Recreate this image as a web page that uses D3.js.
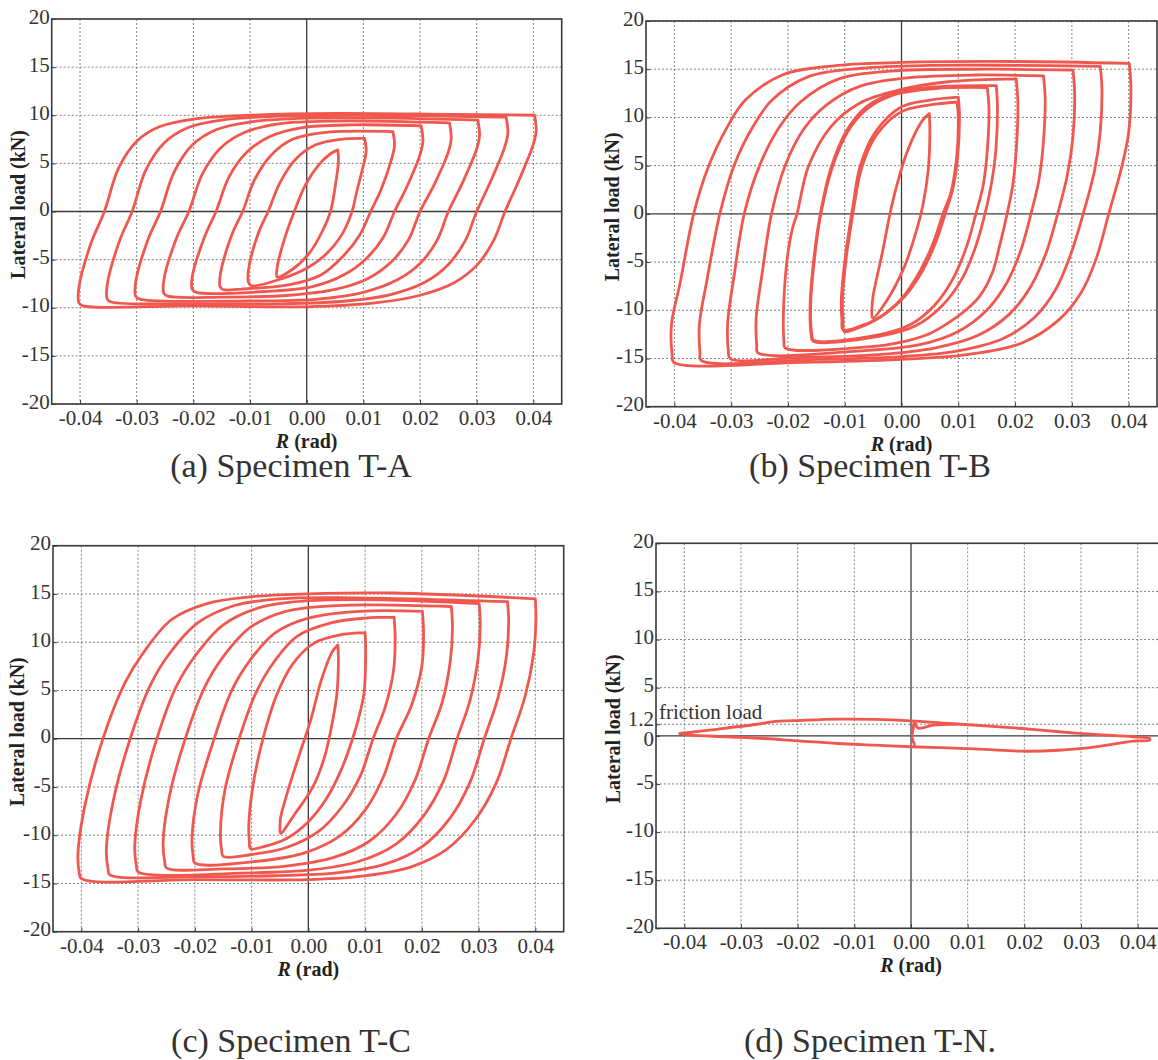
<!DOCTYPE html>
<html>
<head>
<meta charset="utf-8">
<script src="https://cdn.jsdelivr.net/npm/d3@7"></script>
<style>
  body { margin: 0; background: #fff; }
  svg { display: block; }
  svg text { font-family: "Liberation Serif", "Times New Roman", serif; }
</style>
</head>
<body>
<svg id="chart"></svg>
<script>
// ---- data: [R (rad), lateral load (kN)] ----
var xTicks = [-0.04, -0.03, -0.02, -0.01, 0, 0.01, 0.02, 0.03, 0.04];
var yTicks = [-20, -15, -10, -5, 0, 5, 10, 15, 20];
var frictionTick = 1.2;
var captions = ["(a) Specimen T-A", "(b) Specimen T-B", "(c) Specimen T-C", "(d) Specimen T-N."];

var loopsA = [
  [[0.0055,6.4],[0.0056,5.2],[0.0050,2.5],[0.0042,0.0],[0.0028,-2.0],[0.0005,-4.3],[-0.0025,-6.0],[-0.0052,-6.8],[-0.0052,-5.8],[-0.0040,-3.0],[-0.0022,0.0],[-0.0002,2.8],[0.0022,4.9],[0.0042,6.0],[0.0055,6.4]],
  [[0.0102,7.6],[0.0105,6.3],[0.0100,4.8],[0.0088,2.0],[0.0080,0.0],[0.0062,-2.4],[0.0035,-4.4],[0.0000,-5.9],[-0.0045,-7.0],[-0.0098,-7.7],[-0.0103,-7.3],[-0.0102,-5.8],[-0.0085,-2.2],[-0.0068,0.0],[-0.0048,2.9],[-0.0020,5.4],[0.0015,6.9],[0.0060,7.5],[0.0102,7.6]],
  [[0.0152,8.3],[0.0155,6.9],[0.0150,5.5],[0.0132,2.4],[0.0113,0.0],[0.0093,-2.5],[0.0065,-4.6],[0.0025,-6.6],[-0.0030,-7.6],[-0.0100,-8.0],[-0.0148,-8.1],[-0.0153,-7.8],[-0.0152,-6.4],[-0.0132,-2.4],[-0.0113,0.0],[-0.0092,3.3],[-0.0062,5.9],[-0.0025,7.5],[0.0030,8.2],[0.0152,8.3]],
  [[0.0202,8.9],[0.0205,7.3],[0.0200,5.9],[0.0177,2.6],[0.0155,0.0],[0.0135,-2.7],[0.0105,-4.9],[0.0065,-6.6],[0.0010,-7.8],[-0.0070,-8.3],[-0.0195,-8.4],[-0.0202,-8.1],[-0.0202,-6.8],[-0.0180,-2.6],[-0.0160,0.0],[-0.0137,3.6],[-0.0105,6.2],[-0.0065,7.8],[-0.0010,8.7],[0.0080,9.0],[0.0202,8.9]],
  [[0.0252,9.2],[0.0255,7.6],[0.0250,6.2],[0.0225,2.8],[0.0200,0.0],[0.0180,-2.9],[0.0150,-5.2],[0.0110,-6.9],[0.0050,-8.1],[-0.0030,-8.7],[-0.0150,-8.9],[-0.0245,-8.8],[-0.0252,-8.5],[-0.0252,-7.1],[-0.0230,-2.8],[-0.0208,0.0],[-0.0184,3.9],[-0.0152,6.6],[-0.0110,8.2],[-0.0050,9.1],[0.0050,9.4],[0.0252,9.2]],
  [[0.0302,9.5],[0.0305,7.9],[0.0300,6.5],[0.0275,3.0],[0.0250,0.0],[0.0230,-3.0],[0.0200,-5.4],[0.0160,-7.1],[0.0100,-8.4],[0.0020,-9.1],[-0.0100,-9.3],[-0.0295,-9.1],[-0.0302,-8.8],[-0.0302,-7.4],[-0.0280,-2.9],[-0.0258,0.0],[-0.0234,4.1],[-0.0202,6.9],[-0.0160,8.5],[-0.0100,9.3],[0.0000,9.7],[0.0150,9.7],[0.0302,9.5]],
  [[0.0352,9.8],[0.0355,8.2],[0.0350,6.8],[0.0325,3.2],[0.0300,0.0],[0.0280,-3.0],[0.0250,-5.5],[0.0210,-7.3],[0.0150,-8.6],[0.0070,-9.3],[-0.0050,-9.6],[-0.0200,-9.6],[-0.0345,-9.4],[-0.0352,-9.1],[-0.0352,-7.6],[-0.0330,-3.0],[-0.0308,0.0],[-0.0284,4.3],[-0.0252,7.1],[-0.0210,8.7],[-0.0150,9.5],[-0.0050,9.9],[0.0100,10.0],[0.0352,9.8]],
  [[0.0402,10.0],[0.0405,8.4],[0.0400,7.0],[0.0375,3.3],[0.0350,0.0],[0.0330,-3.0],[0.0300,-5.6],[0.0260,-7.4],[0.0200,-8.7],[0.0120,-9.5],[0.0000,-9.9],[-0.0200,-9.8],[-0.0395,-9.8],[-0.0402,-9.5],[-0.0402,-7.9],[-0.0380,-3.2],[-0.0357,0.0],[-0.0332,4.5],[-0.0300,7.3],[-0.0260,8.8],[-0.0200,9.6],[-0.0100,10.0],[0.0050,10.2],[0.0250,10.1],[0.0402,10.0]]
];

var loopsB = [
  [[0.0049,10.4],[0.0050,8.5],[0.0047,4.5],[0.0038,1.0],[0.0025,-2.0],[0.0005,-5.5],[-0.0025,-8.9],[-0.0051,-10.8],[-0.0052,-9.8],[-0.0050,-8.5],[-0.0034,-4.1],[-0.0015,1.4],[0.0011,6.6],[0.0037,9.7],[0.0049,10.4]],
  [[0.0100,12.1],[0.0102,10.5],[0.0099,6.0],[0.0090,2.5],[0.0077,0.0],[0.0060,-3.0],[0.0036,-6.0],[0.0005,-8.6],[-0.0035,-10.6],[-0.0075,-11.7],[-0.0103,-12.0],[-0.0105,-11.0],[-0.0106,-8.9],[-0.0099,-4.5],[-0.0093,-2.0],[-0.0085,1.0],[-0.0073,4.9],[-0.0047,8.4],[0.0000,11.1],[0.0050,11.8],[0.0100,12.1]],
  [[0.0098,11.6],[0.0100,10.0],[0.0097,5.8],[0.0087,2.2],[0.0073,0.0],[0.0056,-3.0],[0.0032,-6.0],[0.0000,-8.8],[-0.0040,-10.8],[-0.0080,-11.9],[-0.0101,-12.2],[-0.0103,-11.0],[-0.0104,-8.8],[-0.0097,-4.4],[-0.0091,-2.0],[-0.0083,1.0],[-0.0070,4.8],[-0.0045,8.1],[0.0000,10.6],[0.0050,11.3],[0.0098,11.6]],
  [[0.0151,13.1],[0.0154,11.0],[0.0151,6.5],[0.0144,3.0],[0.0131,0.0],[0.0114,-3.5],[0.0090,-6.8],[0.0058,-9.5],[0.0015,-11.5],[-0.0045,-12.6],[-0.0155,-13.1],[-0.0158,-12.5],[-0.0160,-9.5],[-0.0153,-4.5],[-0.0142,0.0],[-0.0122,4.8],[-0.0095,8.5],[-0.0060,10.9],[-0.0010,12.4],[0.0060,13.0],[0.0151,13.1]],
  [[0.0167,13.3],[0.0169,11.0],[0.0166,6.5],[0.0158,3.0],[0.0147,0.0],[0.0130,-3.5],[0.0106,-6.8],[0.0072,-9.5],[0.0025,-11.6],[-0.0040,-12.7],[-0.0156,-13.2],[-0.0159,-12.6],[-0.0161,-9.5],[-0.0154,-4.5],[-0.0143,0.0],[-0.0124,4.8],[-0.0097,8.6],[-0.0062,11.1],[-0.0010,12.6],[0.0070,13.2],[0.0167,13.3]],
  [[0.0202,14.0],[0.0205,11.5],[0.0202,6.5],[0.0196,3.0],[0.0186,0.0],[0.0172,-3.5],[0.0160,-6.1],[0.0138,-8.5],[0.0115,-9.9],[0.0080,-11.4],[0.0050,-12.4],[0.0000,-13.3],[-0.0060,-13.8],[-0.0205,-13.9],[-0.0207,-13.2],[-0.0208,-10.5],[-0.0202,-5.0],[-0.0192,-1.5],[-0.0184,0.0],[-0.0164,4.9],[-0.0125,9.0],[-0.0073,11.5],[0.0000,12.9],[0.0082,13.7],[0.0202,14.0]],
  [[0.0250,14.3],[0.0253,12.0],[0.0250,7.5],[0.0242,3.5],[0.0228,0.0],[0.0210,-3.8],[0.0185,-7.2],[0.0150,-10.0],[0.0100,-12.2],[0.0030,-13.6],[-0.0070,-14.2],[-0.0253,-14.4],[-0.0255,-13.6],[-0.0256,-10.8],[-0.0245,-6.0],[-0.0229,0.0],[-0.0205,5.0],[-0.0172,8.8],[-0.0132,11.3],[-0.0075,13.2],[0.0010,14.1],[0.0130,14.4],[0.0250,14.3]],
  [[0.0302,14.9],[0.0305,12.5],[0.0302,8.0],[0.0292,4.0],[0.0275,0.0],[0.0255,-4.0],[0.0228,-7.5],[0.0190,-10.4],[0.0135,-12.6],[0.0060,-13.9],[-0.0040,-14.6],[-0.0180,-14.9],[-0.0302,-15.0],[-0.0305,-14.2],[-0.0306,-11.2],[-0.0295,-6.5],[-0.0277,0.0],[-0.0250,5.0],[-0.0215,9.0],[-0.0178,11.6],[-0.0115,13.9],[-0.0020,14.8],[0.0150,15.0],[0.0302,14.9]],
  [[0.0350,15.3],[0.0353,13.0],[0.0350,8.5],[0.0340,4.5],[0.0320,0.0],[0.0298,-4.2],[0.0272,-7.8],[0.0235,-10.7],[0.0180,-12.9],[0.0100,-14.2],[0.0000,-14.8],[-0.0150,-15.1],[-0.0353,-15.2],[-0.0355,-14.4],[-0.0356,-11.5],[-0.0343,-7.0],[-0.0320,0.0],[-0.0295,5.0],[-0.0262,9.0],[-0.0228,11.8],[-0.0165,14.2],[-0.0070,15.1],[0.0050,15.4],[0.0200,15.4],[0.0350,15.3]],
  [[0.0401,15.6],[0.0404,13.2],[0.0400,8.4],[0.0388,4.9],[0.0365,0.0],[0.0342,-4.8],[0.0316,-8.2],[0.0277,-11.0],[0.0212,-13.4],[0.0115,-14.6],[0.0000,-15.1],[-0.0177,-15.4],[-0.0401,-15.4],[-0.0404,-14.6],[-0.0405,-11.4],[-0.0390,-7.2],[-0.0366,0.0],[-0.0340,4.9],[-0.0307,9.0],[-0.0275,11.8],[-0.0210,14.4],[-0.0112,15.4],[0.0000,15.7],[0.0200,15.8],[0.0401,15.6]]
];

var loopsC = [
  [[0.0052,9.7],[0.0053,8.0],[0.0050,4.5],[0.0040,1.0],[0.0028,-2.0],[0.0008,-5.0],[-0.0025,-7.9],[-0.0049,-9.8],[-0.0050,-9.0],[-0.0049,-8.2],[-0.0034,-5.0],[-0.0015,-1.5],[0.0004,1.9],[0.0023,6.1],[0.0042,9.0],[0.0052,9.7]],
  [[0.0100,11.0],[0.0101,9.0],[0.0098,4.7],[0.0088,2.0],[0.0078,0.0],[0.0058,-3.2],[0.0032,-6.2],[0.0000,-8.6],[-0.0040,-10.4],[-0.0080,-11.2],[-0.0102,-11.4],[-0.0104,-10.6],[-0.0105,-9.0],[-0.0098,-5.0],[-0.0080,0.0],[-0.0056,4.5],[-0.0028,7.7],[0.0010,9.9],[0.0060,10.8],[0.0100,11.0]],
  [[0.0151,12.6],[0.0153,10.5],[0.0150,7.0],[0.0135,3.2],[0.0114,0.0],[0.0092,-3.8],[0.0060,-7.0],[0.0018,-9.6],[-0.0040,-11.3],[-0.0100,-12.0],[-0.0150,-12.2],[-0.0153,-11.5],[-0.0155,-9.8],[-0.0147,-5.3],[-0.0122,0.0],[-0.0092,4.8],[-0.0060,8.0],[-0.0020,10.6],[0.0040,12.0],[0.0100,12.5],[0.0151,12.6]],
  [[0.0201,13.2],[0.0203,11.0],[0.0200,7.5],[0.0182,3.5],[0.0155,0.0],[0.0132,-4.0],[0.0100,-7.4],[0.0055,-10.1],[-0.0005,-11.8],[-0.0090,-12.7],[-0.0200,-12.9],[-0.0203,-12.2],[-0.0205,-10.3],[-0.0195,-5.8],[-0.0166,0.0],[-0.0135,5.0],[-0.0102,8.2],[-0.0058,11.0],[0.0000,12.5],[0.0090,13.2],[0.0201,13.2]],
  [[0.0252,13.7],[0.0254,11.5],[0.0250,8.0],[0.0236,3.8],[0.0212,0.0],[0.0188,-4.3],[0.0155,-7.8],[0.0108,-10.6],[0.0045,-12.3],[-0.0040,-13.2],[-0.0150,-13.5],[-0.0250,-13.4],[-0.0253,-12.8],[-0.0256,-10.8],[-0.0245,-6.0],[-0.0217,0.0],[-0.0183,5.3],[-0.0150,8.5],[-0.0103,11.5],[-0.0040,13.2],[0.0050,13.8],[0.0252,13.7]],
  [[0.0301,14.0],[0.0303,11.8],[0.0299,8.3],[0.0285,4.0],[0.0262,0.0],[0.0238,-4.4],[0.0203,-8.0],[0.0155,-10.9],[0.0090,-12.7],[0.0005,-13.6],[-0.0100,-13.9],[-0.0300,-13.8],[-0.0303,-13.2],[-0.0306,-11.2],[-0.0295,-6.3],[-0.0267,0.0],[-0.0232,5.5],[-0.0198,8.7],[-0.0150,11.8],[-0.0085,13.6],[0.0000,14.3],[0.0130,14.4],[0.0301,14.0]],
  [[0.0351,14.2],[0.0353,12.0],[0.0349,8.5],[0.0334,4.2],[0.0310,0.0],[0.0285,-4.5],[0.0250,-8.2],[0.0200,-11.2],[0.0135,-13.0],[0.0050,-13.9],[-0.0060,-14.2],[-0.0200,-14.3],[-0.0350,-14.1],[-0.0353,-13.5],[-0.0356,-11.5],[-0.0344,-6.5],[-0.0314,0.0],[-0.0278,5.6],[-0.0245,8.8],[-0.0195,12.0],[-0.0130,13.8],[-0.0050,14.5],[0.0080,14.6],[0.0351,14.2]],
  [[0.0400,14.5],[0.0401,12.3],[0.0397,8.8],[0.0382,4.4],[0.0357,0.0],[0.0331,-4.6],[0.0294,-8.4],[0.0243,-11.5],[0.0180,-13.3],[0.0086,-14.3],[0.0000,-14.6],[-0.0200,-14.6],[-0.0400,-14.5],[-0.0404,-13.8],[-0.0406,-11.9],[-0.0393,-6.7],[-0.0362,0.0],[-0.0324,5.7],[-0.0292,8.8],[-0.0242,12.3],[-0.0179,14.0],[-0.0103,14.7],[0.0000,15.0],[0.0149,15.1],[0.0400,14.5]]
];

var loopsD = [
  [[-0.0408,0.24],[-0.0356,0.6],[-0.0272,1.2],[-0.0246,1.45],[-0.0194,1.6],[-0.0129,1.73],[-0.0064,1.7],[0.0000,1.55],[0.0066,1.28],[0.0131,1.04],[0.0196,0.76],[0.0261,0.42],[0.0326,0.14],[0.0392,-0.1],[0.0421,-0.28],[0.0421,-0.45],[0.0392,-0.55],[0.0326,-1.14],[0.0261,-1.5],[0.0196,-1.6],[0.0131,-1.42],[0.0066,-1.25],[0.0000,-1.14],[-0.0064,-0.97],[-0.0129,-0.8],[-0.0194,-0.55],[-0.0259,-0.28],[-0.0324,-0.1],[-0.0389,0.07],[-0.0408,0.24]],
  [[0.0006,-0.9],[0.0002,-0.2],[0.0004,0.8],[0.0006,1.4],[0.0012,0.8],[0.0040,1.1],[0.0080,1.22]]
];

// ---- layout ----
var width = 1158, height = 1060;
var xDomain = [-0.045, 0.045], yDomain = [-20, 20];
var panels = [
  { loops: loopsA, left: 51.7, right: 561.7, top: 19, bottom: 404, titleDx: 27, capX: 291, capY: 477 },
  { loops: loopsB, left: 646, right: 1157, top: 21, bottom: 406.7, titleDx: 27, capX: 870, capY: 477 },
  { loops: loopsC, left: 53, right: 563.7, top: 545.7, bottom: 931.7, titleDx: 29, capX: 291, capY: 1052 },
  { loops: loopsD, left: 656, right: 1166, top: 543.3, bottom: 928.3, titleDx: 36, capX: 870, capY: 1052 }
];

var red = "#F0574F";
var ink = "#3a3a3a";

var svg = d3.select("#chart").attr("width", width).attr("height", height);

panels.forEach(function (p, i) {
  var x = d3.scaleLinear().domain(xDomain).range([p.left, p.right]);
  var y = d3.scaleLinear().domain(yDomain).range([p.bottom, p.top]);
  var g = svg.append("g");

  svg.append("clipPath").attr("id", "clip" + i).append("rect")
    .attr("x", p.left).attr("y", p.top)
    .attr("width", p.right - p.left).attr("height", p.bottom - p.top);

  var yGrid = i === 3 ? yTicks.concat([frictionTick]) : yTicks;

  // dotted grid
  g.append("g").selectAll("line").data(xTicks.filter(function (d) { return d !== 0; }))
    .join("line")
    .attr("x1", function (d) { return x(d); }).attr("x2", function (d) { return x(d); })
    .attr("y1", p.top).attr("y2", p.bottom)
    .attr("stroke", "#777").attr("stroke-width", 0.9).attr("stroke-dasharray", "2,2");
  g.append("g").selectAll("line").data(yGrid.filter(function (d) { return d !== 0; }))
    .join("line")
    .attr("x1", p.left).attr("x2", p.right)
    .attr("y1", function (d) { return y(d); }).attr("y2", function (d) { return y(d); })
    .attr("stroke", "#777").attr("stroke-width", 0.9).attr("stroke-dasharray", "2,2");

  // zero lines
  g.append("line").attr("x1", x(0)).attr("x2", x(0)).attr("y1", p.top).attr("y2", p.bottom)
    .attr("stroke", ink).attr("stroke-width", 1.3);
  g.append("line").attr("x1", p.left).attr("x2", p.right).attr("y1", y(0)).attr("y2", y(0))
    .attr("stroke", ink).attr("stroke-width", 1.3);

  // hysteresis loops
  var line = d3.line()
    .x(function (d) { return x(d[0]); })
    .y(function (d) { return y(d[1]); })
    .curve(d3.curveCatmullRom.alpha(0.5));
  g.append("g").attr("clip-path", "url(#clip" + i + ")")
    .selectAll("path").data(p.loops).join("path")
    .attr("d", line)
    .attr("fill", "none").attr("stroke", red)
    .attr("stroke-width", 2.8).attr("stroke-linejoin", "round").attr("stroke-linecap", "round");

  // frame
  g.append("rect").attr("x", p.left).attr("y", p.top)
    .attr("width", p.right - p.left).attr("height", p.bottom - p.top)
    .attr("fill", "none").attr("stroke", ink).attr("stroke-width", 1.6);

  // axes
  var xAxis = d3.axisBottom(x).tickValues(xTicks)
    .tickFormat(function (d) { return d3.format(".2f")(d).replace("\u2212", "-"); })
    .tickSizeInner(-4).tickSizeOuter(0).tickPadding(6);
  var yAxis = d3.axisLeft(y).tickValues(yGrid)
    .tickFormat(function (d) { return String(d); })
    .tickSizeInner(-4).tickSizeOuter(0).tickPadding(2);

  var gx = g.append("g").attr("transform", "translate(0," + p.bottom + ")").call(xAxis);
  var gy = g.append("g").attr("transform", "translate(" + p.left + ",0)").call(yAxis);
  [gx, gy].forEach(function (a) {
    a.attr("font-family", null).attr("font-size", null);
    a.select(".domain").remove();
    a.selectAll(".tick line").attr("stroke", ink);
    a.selectAll("text").style("font-size", "21px").attr("fill", "#333");
  });
  gy.selectAll("text").attr("dy", function (d) {
    if (i === 3 && d === frictionTick) return "0.05em";
    if (i === 3 && d === 0) return "0.45em";
    return "0.2em";
  });

  // axis titles
  var xt = g.append("text").attr("x", x(0)).attr("y", p.bottom + 44)
    .attr("text-anchor", "middle")
    .style("font-size", "20px").style("font-weight", "bold").attr("fill", "#222");
  xt.append("tspan").style("font-style", "italic").text("R");
  xt.append("tspan").text(" (rad)");

  g.append("text")
    .attr("transform", "translate(" + (p.left - p.titleDx) + "," + (y(0) - 7) + ") rotate(-90)")
    .attr("text-anchor", "middle")
    .style("font-size", "20px").style("font-weight", "bold").attr("fill", "#222")
    .text("Lateral load (kN)");

  if (i === 3) {
    g.append("text").attr("x", p.left + 3).attr("y", y(frictionTick) - 5)
      .style("font-size", "21px").attr("fill", "#333")
      .text("friction load");
  }

  // caption
  svg.append("text").attr("x", p.capX).attr("y", p.capY)
    .attr("text-anchor", "middle")
    .style("font-size", "34px").attr("fill", "#333")
    .text(captions[i]);
});
</script>
</body>
</html>
